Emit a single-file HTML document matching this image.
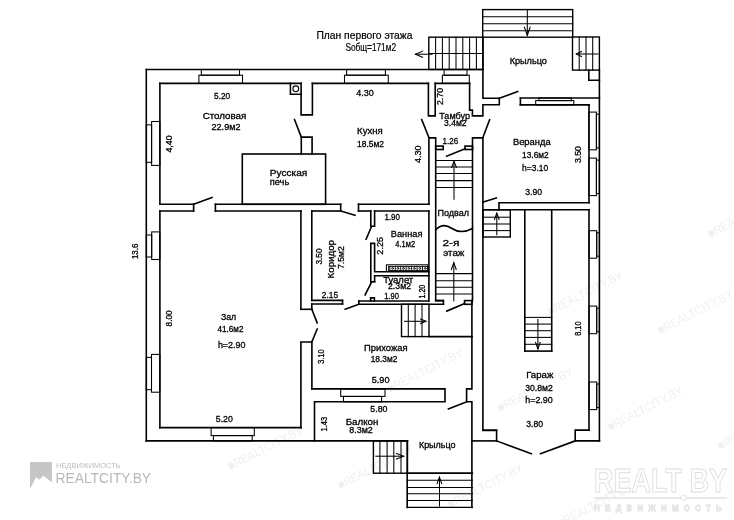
<!DOCTYPE html>
<html><head><meta charset="utf-8">
<style>
html,body{margin:0;padding:0;background:#fff;}
body{width:734px;height:520px;overflow:hidden;}
svg{display:block;}
.lbl text{font-family:"Liberation Sans",sans-serif;fill:#000;stroke:#000;stroke-width:0.3px;text-anchor:middle;}
svg{filter:grayscale(1);}
</style></head><body>
<svg width="734" height="520" viewBox="0 0 734 520">
<g style="font-family:'Liberation Sans',sans-serif" fill="#f0f0f0">
<text x="390.0" y="393.0" font-size="12" textLength="83" lengthAdjust="spacingAndGlyphs" transform="rotate(-27 390.0 393.0)">&#9632;REALTCITY.BY</text>
<text x="500.0" y="412.0" font-size="12" textLength="83" lengthAdjust="spacingAndGlyphs" transform="rotate(-27 500.0 412.0)">&#9632;REALTCITY.BY</text>
<text x="610.0" y="431.0" font-size="12" textLength="83" lengthAdjust="spacingAndGlyphs" transform="rotate(-27 610.0 431.0)">&#9632;REALTCITY.BY</text>
<text x="720.0" y="450.0" font-size="12" textLength="83" lengthAdjust="spacingAndGlyphs" transform="rotate(-27 720.0 450.0)">&#9632;REALTCITY.BY</text>
<text x="230.0" y="470.5" font-size="12" textLength="83" lengthAdjust="spacingAndGlyphs" transform="rotate(-27 230.0 470.5)">&#9632;REALTCITY.BY</text>
<text x="340.0" y="489.5" font-size="12" textLength="83" lengthAdjust="spacingAndGlyphs" transform="rotate(-27 340.0 489.5)">&#9632;REALTCITY.BY</text>
<text x="450.0" y="508.5" font-size="12" textLength="83" lengthAdjust="spacingAndGlyphs" transform="rotate(-27 450.0 508.5)">&#9632;REALTCITY.BY</text>
<text x="560.0" y="527.5" font-size="12" textLength="83" lengthAdjust="spacingAndGlyphs" transform="rotate(-27 560.0 527.5)">&#9632;REALTCITY.BY</text>
<text x="550.0" y="315.5" font-size="12" textLength="83" lengthAdjust="spacingAndGlyphs" transform="rotate(-27 550.0 315.5)">&#9632;REALTCITY.BY</text>
<text x="660.0" y="334.5" font-size="12" textLength="83" lengthAdjust="spacingAndGlyphs" transform="rotate(-27 660.0 334.5)">&#9632;REALTCITY.BY</text>
<text x="710.0" y="238.0" font-size="12" textLength="83" lengthAdjust="spacingAndGlyphs" transform="rotate(-27 710.0 238.0)">&#9632;REALTCITY.BY</text>
</g>
<g style="font-family:'Liberation Sans',sans-serif">
<polygon points="30,462.1 51.9,462.1 51.9,482.3 43.5,475.8 39.2,479.8 36.3,476.9 30,488.8" fill="#c6c6c6"/>
<text x="56" y="468.3" font-size="8.1" textLength="64.6" lengthAdjust="spacingAndGlyphs" fill="#bdbdbd">НЕДВИЖИМОСТЬ</text>
<text x="55.5" y="482.5" font-size="14.8" textLength="95.6" lengthAdjust="spacingAndGlyphs" fill="#b8b8b8">REALTCITY.BY</text>
<text x="594.1" y="491.5" font-size="33" font-weight="bold" textLength="133" lengthAdjust="spacingAndGlyphs" fill="#fff" stroke="#dedede" stroke-width="1">REALT BY</text>
<line x1="594.1" y1="498" x2="727.1" y2="498" stroke="#e2e2e2" stroke-width="1.6"/>
<circle cx="683.5" cy="497.6" r="2.6" fill="#fff" stroke="#e2e2e2" stroke-width="1"/>
<text x="594.1" y="510.8" font-size="9" font-weight="bold" textLength="133" lengthAdjust="spacingAndGlyphs" fill="#fff" stroke="#e0e0e0" stroke-width="0.8" letter-spacing="6">НЕДВИЖИМОСТЬ</text>
</g>
<g fill="none" stroke="#000" stroke-width="1.6" stroke-linecap="square">
<line x1="146.3" y1="69.5" x2="482.9" y2="69.5"/>
<line x1="146.3" y1="69.5" x2="146.3" y2="440.9"/>
<line x1="146.3" y1="440.9" x2="407.5" y2="440.9"/>
<line x1="159.9" y1="83.4" x2="301.1" y2="83.4"/>
<line x1="312.4" y1="83.4" x2="428.4" y2="83.4"/>
<line x1="435.2" y1="83.4" x2="469.6" y2="83.4"/>
<line x1="159.9" y1="83.4" x2="159.9" y2="204.3"/>
<line x1="159.9" y1="211" x2="159.9" y2="427.6"/>
<line x1="159.9" y1="427.6" x2="301.2" y2="427.6"/>
<rect x="201.3" y="69.5" width="38.2" height="5.7" stroke-width="1.05"/>
<rect x="198.9" y="75.2" width="43.6" height="8.2" stroke-width="1.05"/>
<rect x="346.6" y="69.5" width="38.8" height="5.7" stroke-width="1.05"/>
<rect x="344.5" y="75.2" width="43.8" height="8.2" stroke-width="1.05"/>
<rect x="444.1" y="69.5" width="22.9" height="5.7" stroke-width="1.05"/>
<rect x="442.4" y="75.2" width="26.9" height="8.2" stroke-width="1.05"/>
<rect x="146.3" y="124.9" width="5.3" height="37.4" stroke-width="1.05"/>
<rect x="151.6" y="121.5" width="8.3" height="43.9" stroke-width="1.05"/>
<rect x="146.3" y="235.0" width="5.4" height="22.0" stroke-width="1.05"/>
<rect x="151.7" y="231.9" width="8.2" height="27.6" stroke-width="1.05"/>
<rect x="146.3" y="357.4" width="5.2" height="32.3" stroke-width="1.05"/>
<rect x="151.5" y="354.4" width="8.4" height="37.8" stroke-width="1.05"/>
<rect x="211.1" y="427.6" width="43.2" height="8.0" stroke-width="1.05"/>
<rect x="213.4" y="435.6" width="38.8" height="5.3" stroke-width="1.05"/>
<polyline points="301.1,83.4 301.1,114.9 312.4,114.9 312.4,83.4"/>
<polyline points="301.3,154 301.3,137.1 312.1,137.1 312.1,154"/>
<line x1="294.5" y1="119.5" x2="301.3" y2="137.1"/>
<polyline points="290.4,83.4 290.4,94.3 301.1,94.3"/>
<circle cx="295.8" cy="88.8" r="2.9" stroke-width="1.1"/>
<rect x="242.3" y="154" width="83.3" height="50.3"/>
<line x1="159.9" y1="204.3" x2="193.6" y2="204.3"/>
<line x1="159.9" y1="211" x2="193.6" y2="211"/>
<line x1="193.6" y1="204.3" x2="193.6" y2="211"/>
<line x1="193.6" y1="204.3" x2="212" y2="197.6"/>
<line x1="215.4" y1="204.3" x2="340.7" y2="204.3"/>
<line x1="215.4" y1="204.3" x2="215.4" y2="211"/>
<line x1="215.4" y1="211" x2="301.2" y2="211"/>
<line x1="311.8" y1="211" x2="340.7" y2="211"/>
<line x1="340.7" y1="204.3" x2="340.7" y2="211"/>
<line x1="340.7" y1="211" x2="355.0" y2="215.2"/>
<line x1="358.5" y1="204.3" x2="428.9" y2="204.3"/>
<line x1="358.5" y1="204.3" x2="358.5" y2="211"/>
<line x1="358.5" y1="211" x2="370.8" y2="211"/>
<line x1="374.6" y1="211" x2="428.9" y2="211"/>
<polyline points="428.4,83.4 428.4,115.9 435.2,115.9 435.2,83.4"/>
<line x1="421.7" y1="119.6" x2="428.9" y2="137.5"/>
<polyline points="428.9,204.3 428.9,137.9 435.7,137.9 435.7,300.6 443.4,300.6 443.4,304.3"/>
<line x1="428.9" y1="211" x2="428.9" y2="300.6"/>
<line x1="300.9" y1="211" x2="300.9" y2="309.3"/>
<line x1="300.9" y1="309.3" x2="311.8" y2="309.3"/>
<line x1="311.8" y1="211" x2="311.8" y2="300.4"/>
<line x1="311.8" y1="300.4" x2="342.5" y2="300.4"/>
<line x1="342.5" y1="300.4" x2="342.5" y2="304.0"/>
<line x1="311.8" y1="304.0" x2="342.5" y2="304.0"/>
<line x1="311.8" y1="304.0" x2="311.8" y2="309.3"/>
<line x1="358.8" y1="304.3" x2="345.2" y2="309.3"/>
<line x1="311.8" y1="309.3" x2="317.2" y2="322.9"/>
<line x1="311.8" y1="342.0" x2="317.2" y2="329.0"/>
<polyline points="300.9,427.6 300.9,342.0 311.9,342.0 311.9,388.9"/>
<polyline points="370.8,211 370.8,226.2 374.6,226.2 374.6,211"/>
<line x1="366.1" y1="239.3" x2="371.2" y2="227.2"/>
<polyline points="370.8,281.8 370.8,243.4 374.6,243.4 374.6,271.7 428.9,271.7"/>
<polyline points="374.6,281.8 374.6,275.7 428.9,275.7"/>
<line x1="370.8" y1="281.8" x2="374.6" y2="281.8"/>
<line x1="365.1" y1="294.9" x2="371.2" y2="282.8"/>
<polyline points="370.6,301 370.6,297.9 374.4,297.9 374.4,301"/>
<line x1="358.8" y1="301" x2="428.9" y2="301"/>
<line x1="435.7" y1="300.6" x2="443.4" y2="300.6"/>
<line x1="358.8" y1="301" x2="358.8" y2="304.3"/>
<line x1="358.8" y1="304.3" x2="443.4" y2="304.3"/>
<rect x="386.4" y="264.8" width="41.6" height="6.6" stroke-width="1.05"/>
<rect x="388.6" y="266.4" width="39.4" height="4.0" stroke-width="0.9"/>
<line x1="389.8" y1="266.4" x2="389.8" y2="270.4" stroke-width="0.9"/>
<circle cx="392.5" cy="268.4" r="0.9" stroke-width="0.8"/>
<line x1="395.25" y1="266.4" x2="395.25" y2="270.4" stroke-width="0.9"/>
<circle cx="397.9" cy="268.4" r="0.9" stroke-width="0.8"/>
<line x1="400.7" y1="266.4" x2="400.7" y2="270.4" stroke-width="0.9"/>
<circle cx="403.4" cy="268.4" r="0.9" stroke-width="0.8"/>
<line x1="406.15000000000003" y1="266.4" x2="406.15000000000003" y2="270.4" stroke-width="0.9"/>
<circle cx="408.9" cy="268.4" r="0.9" stroke-width="0.8"/>
<line x1="411.6" y1="266.4" x2="411.6" y2="270.4" stroke-width="0.9"/>
<circle cx="414.3" cy="268.4" r="0.9" stroke-width="0.8"/>
<line x1="417.05" y1="266.4" x2="417.05" y2="270.4" stroke-width="0.9"/>
<circle cx="419.8" cy="268.4" r="0.9" stroke-width="0.8"/>
<line x1="422.5" y1="266.4" x2="422.5" y2="270.4" stroke-width="0.9"/>
<circle cx="425.2" cy="268.4" r="0.9" stroke-width="0.8"/>
<line x1="427.95" y1="266.4" x2="427.95" y2="270.4" stroke-width="0.9"/>
<polyline points="469.6,83.4 469.6,110.1 472.4,110.1 472.4,115.9 482.9,115.9 482.9,104.7 499.3,104.7 499.3,98.2 482.9,98.2 482.9,37.2"/>
<line x1="499.3" y1="98.2" x2="517.6" y2="91.6"/>
<polyline points="520.4,98.2 520.4,104.9"/>
<line x1="489.6" y1="119.7" x2="482.9" y2="137.5"/>
<polyline points="472.5,300.6 472.5,137.9 482.9,137.9 482.9,430.5 496.6,430.5 496.6,440.9"/>
<rect x="435.7" y="146.1" width="7.5" height="3.4"/>
<rect x="465.0" y="146.1" width="7.5" height="3.4"/>
<line x1="446.6" y1="156.3" x2="465" y2="148.8"/>
<line x1="435.7" y1="160.4" x2="472.5" y2="160.4" stroke-width="1.05"/>
<line x1="435.7" y1="167.0" x2="472.5" y2="167.0" stroke-width="1.05"/>
<line x1="435.7" y1="173.4" x2="472.5" y2="173.4" stroke-width="1.05"/>
<line x1="435.7" y1="180.6" x2="472.5" y2="180.6" stroke-width="1.05"/>
<line x1="435.7" y1="187.4" x2="472.5" y2="187.4" stroke-width="1.05"/>
<line x1="454.0" y1="162" x2="454.0" y2="199.3" stroke-width="1.05"/>
<polyline points="451.6,167.5 454.0,161.2 456.4,167.5" stroke-width="1.05"/>
<path d="M435.7,230 C441,224 446,224.5 452,228.5 C458,232.5 464,233 472.5,228.5"/>
<line x1="435.7" y1="273.6" x2="472.5" y2="273.6" stroke-width="1.05"/>
<line x1="435.7" y1="280.7" x2="472.5" y2="280.7" stroke-width="1.05"/>
<line x1="435.7" y1="287.2" x2="472.5" y2="287.2" stroke-width="1.05"/>
<line x1="435.7" y1="294.0" x2="472.5" y2="294.0" stroke-width="1.05"/>
<line x1="453.8" y1="263" x2="453.8" y2="300.6" stroke-width="1.05"/>
<polyline points="451.4,269.5 453.8,262.7 456.2,269.5" stroke-width="1.05"/>
<rect x="464.5" y="300.6" width="7.5" height="3.7"/>
<line x1="446.8" y1="311.1" x2="464.5" y2="303.6"/>
<rect x="401.5" y="304.3" width="27.5" height="32.3" stroke-width="1.4"/>
<line x1="408.3" y1="304.3" x2="408.3" y2="336.6" stroke-width="1.05"/>
<line x1="415.1" y1="304.3" x2="415.1" y2="336.6" stroke-width="1.05"/>
<line x1="422.0" y1="304.3" x2="422.0" y2="336.6" stroke-width="1.05"/>
<line x1="429.0" y1="336.6" x2="471.9" y2="336.6"/>
<line x1="404.5" y1="321.3" x2="425.6" y2="321.3" stroke-width="1.05"/>
<polyline points="420.5,319.0 426.0,321.3 420.5,323.6" stroke-width="1.05"/>
<polyline points="471.9,336.6 471.9,388.9 466.6,388.9 466.6,401.7 471.9,401.7 471.9,507.4"/>
<line x1="471.9" y1="300.6" x2="471.9" y2="336.6"/>
<polyline points="311.9,388.9 445.0,388.9 445.0,401.8 314.5,401.8 314.5,440.9"/>
<rect x="340.7" y="388.9" width="44.3" height="7.5" stroke-width="1.05"/>
<rect x="343.5" y="396.4" width="38.1" height="5.4" stroke-width="1.05"/>
<line x1="466.8" y1="401.8" x2="448.4" y2="409.0"/>
<rect x="373.4" y="440.9" width="34.1" height="32.3" stroke-width="1.4"/>
<line x1="379.9" y1="440.9" x2="379.9" y2="473.2" stroke-width="1.05"/>
<line x1="387.1" y1="440.9" x2="387.1" y2="473.2" stroke-width="1.05"/>
<line x1="393.8" y1="440.9" x2="393.8" y2="473.2" stroke-width="1.05"/>
<line x1="401.0" y1="440.9" x2="401.0" y2="473.2" stroke-width="1.05"/>
<line x1="375.8" y1="456.2" x2="403.4" y2="456.2" stroke-width="1.05"/>
<polyline points="396.5,453.4 403.6,456.2 396.5,459.0" stroke-width="1.05"/>
<line x1="407.2" y1="440.9" x2="407.2" y2="507.4"/>
<line x1="471.9" y1="440.9" x2="496.6" y2="440.9"/>
<line x1="407.2" y1="480.3" x2="472.3" y2="480.3" stroke-width="1.05"/>
<line x1="407.2" y1="487.4" x2="472.3" y2="487.4" stroke-width="1.05"/>
<line x1="407.2" y1="493.8" x2="472.3" y2="493.8" stroke-width="1.05"/>
<line x1="407.2" y1="500.5" x2="472.3" y2="500.5" stroke-width="1.05"/>
<line x1="407.2" y1="507.4" x2="472.3" y2="507.4" stroke-width="1.4"/>
<line x1="407.2" y1="473.1" x2="472.3" y2="473.1"/>
<line x1="439.5" y1="477.5" x2="439.5" y2="506" stroke-width="1.05"/>
<polyline points="437.1,483.7 439.4,477 441.7,483.7" stroke-width="1.05"/>
<rect x="428.8" y="37.2" width="54.1" height="32.3" stroke-width="1.4"/>
<line x1="435.6" y1="37.2" x2="435.6" y2="69.5" stroke-width="1.05"/>
<line x1="442.4" y1="37.2" x2="442.4" y2="69.5" stroke-width="1.05"/>
<line x1="449.2" y1="37.2" x2="449.2" y2="69.5" stroke-width="1.05"/>
<line x1="456.0" y1="37.2" x2="456.0" y2="69.5" stroke-width="1.05"/>
<line x1="462.8" y1="37.2" x2="462.8" y2="69.5" stroke-width="1.05"/>
<line x1="469.6" y1="37.2" x2="469.6" y2="69.5" stroke-width="1.05"/>
<line x1="476.4" y1="37.2" x2="476.4" y2="69.5" stroke-width="1.05"/>
<line x1="428.8" y1="53.5" x2="482.9" y2="53.5" stroke-width="1.05"/>
<line x1="415.5" y1="54.2" x2="432" y2="54.2" stroke-width="1.05"/>
<polyline points="422.6,51.1 415.5,54.2 422.6,57.3" stroke-width="1.05"/>
<rect x="482.7" y="9.6" width="90.0" height="27.6" stroke-width="1.4"/>
<line x1="482.7" y1="16.8" x2="572.7" y2="16.8" stroke-width="1.05"/>
<line x1="482.7" y1="23.7" x2="572.7" y2="23.7" stroke-width="1.05"/>
<line x1="482.7" y1="30.7" x2="572.7" y2="30.7" stroke-width="1.05"/>
<line x1="527.3" y1="9.6" x2="527.3" y2="35.0" stroke-width="1.05"/>
<polyline points="524.4,27.2 527.3,35.3 530.1,27.2" stroke-width="1.05"/>
<rect x="572.5" y="37.0" width="26.9" height="33.1" stroke-width="1.4"/>
<line x1="579.2" y1="37.0" x2="579.2" y2="70.1" stroke-width="1.05"/>
<line x1="586.0" y1="37.0" x2="586.0" y2="70.1" stroke-width="1.05"/>
<line x1="592.7" y1="37.0" x2="592.7" y2="70.1" stroke-width="1.05"/>
<line x1="576.5" y1="54.0" x2="598" y2="54.0" stroke-width="1.05"/>
<polyline points="581.5,51.5 576.3,54.0 581.5,56.5" stroke-width="1.05"/>
<polyline points="588.8,70.1 588.8,80.2 599.4,80.2"/>
<line x1="599.4" y1="70.1" x2="599.4" y2="440.9"/>
<line x1="520.4" y1="98.0" x2="599.4" y2="98.0"/>
<line x1="520.4" y1="104.9" x2="589.0" y2="104.9"/>
<line x1="589.0" y1="104.9" x2="589.0" y2="202.7"/>
<rect x="535.7" y="100.6" width="38.1" height="4.3" stroke-width="1.05"/>
<rect x="538.9" y="98.0" width="32.4" height="2.6" stroke-width="1.05"/>
<rect x="588.8" y="112.1" width="7.6" height="37.7" stroke-width="1.05"/>
<rect x="596.4" y="114.2" width="3.0" height="33.7" stroke-width="1.05"/>
<rect x="588.8" y="158.1" width="7.6" height="37.5" stroke-width="1.05"/>
<rect x="596.4" y="160.1" width="3.0" height="33.5" stroke-width="1.05"/>
<line x1="483.3" y1="202.0" x2="496.3" y2="197.9"/>
<polyline points="499.0,209.8 499.0,202.7 589.0,202.7"/>
<line x1="482.9" y1="209.8" x2="589.0" y2="209.8"/>
<line x1="589.0" y1="209.8" x2="589.0" y2="430.1"/>
<rect x="482.9" y="209.8" width="27.4" height="27.2" stroke-width="1.4"/>
<line x1="482.9" y1="217.2" x2="510.3" y2="217.2" stroke-width="1.05"/>
<line x1="482.9" y1="224.0" x2="510.3" y2="224.0" stroke-width="1.05"/>
<line x1="482.9" y1="230.6" x2="510.3" y2="230.6" stroke-width="1.05"/>
<line x1="496.8" y1="213.5" x2="496.8" y2="234.7" stroke-width="1.05"/>
<polyline points="494.5,219.5 496.8,213.0 499.1,219.5" stroke-width="1.05"/>
<line x1="524.8" y1="209.8" x2="524.8" y2="351.1"/>
<line x1="551.7" y1="209.8" x2="551.7" y2="351.1"/>
<line x1="524.8" y1="351.1" x2="551.7" y2="351.1"/>
<line x1="524.8" y1="317.4" x2="551.7" y2="317.4" stroke-width="1.05"/>
<line x1="524.8" y1="324.1" x2="551.7" y2="324.1" stroke-width="1.05"/>
<line x1="524.8" y1="330.7" x2="551.7" y2="330.7" stroke-width="1.05"/>
<line x1="524.8" y1="337.4" x2="551.7" y2="337.4" stroke-width="1.05"/>
<line x1="524.8" y1="344.3" x2="551.7" y2="344.3" stroke-width="1.05"/>
<line x1="537.9" y1="319.4" x2="537.9" y2="348.6" stroke-width="1.05"/>
<polyline points="535.6,342.5 537.9,349.0 540.2,342.5" stroke-width="1.05"/>
<rect x="589.1" y="230.7" width="7.6" height="27.5" stroke-width="1.05"/>
<rect x="596.7" y="232.7" width="2.7" height="23.5" stroke-width="1.05"/>
<rect x="589.1" y="306.1" width="7.6" height="27.6" stroke-width="1.05"/>
<rect x="596.7" y="308.1" width="2.7" height="23.6" stroke-width="1.05"/>
<rect x="589.1" y="382.0" width="7.6" height="27.6" stroke-width="1.05"/>
<rect x="596.7" y="384.0" width="2.7" height="23.6" stroke-width="1.05"/>
<polyline points="482.9,430.1 496.6,430.1"/>
<polyline points="589.0,430.1 575.2,430.1 575.2,440.9 599.4,440.9"/>
<line x1="496.6" y1="440.9" x2="531.3" y2="453.7"/>
<line x1="575.2" y1="440.9" x2="540.5" y2="453.7"/>
</g>
<g class="lbl">
<text x="364.4" y="38.67" font-size="10.2" textLength="96" lengthAdjust="spacingAndGlyphs" style="stroke-width:0.2px;font-weight:normal">План первого этажа</text>
<text x="370.7" y="50.87" font-size="10.2" textLength="50.6" lengthAdjust="spacingAndGlyphs" style="stroke-width:0.2px;font-weight:normal">Sобщ=171м2</text>
<text x="528.3" y="63.63" font-size="8.7" textLength="37.2" lengthAdjust="spacingAndGlyphs">Крыльцо</text>
<text x="222.1" y="98.83" font-size="8.7" textLength="16.2" lengthAdjust="spacingAndGlyphs">5.20</text>
<text x="224.5" y="119.43" font-size="8.7" textLength="43.6" lengthAdjust="spacingAndGlyphs">Столовая</text>
<text x="226" y="129.73" font-size="8.7" textLength="29" lengthAdjust="spacingAndGlyphs">22.9м2</text>
<text x="168.6" y="147.13" font-size="8.7" textLength="17" lengthAdjust="spacingAndGlyphs" transform="rotate(-90 168.6 144)">4,40</text>
<text x="288.5" y="175.93" font-size="8.7" textLength="37.4" lengthAdjust="spacingAndGlyphs">Русская</text>
<text x="279.5" y="185.03" font-size="8.7" textLength="19.4" lengthAdjust="spacingAndGlyphs">печь</text>
<text x="365" y="95.83" font-size="8.7" textLength="17.5" lengthAdjust="spacingAndGlyphs">4.30</text>
<text x="369.9" y="134.13" font-size="8.7" textLength="25.6" lengthAdjust="spacingAndGlyphs">Кухня</text>
<text x="370.5" y="146.63" font-size="8.7" textLength="27" lengthAdjust="spacingAndGlyphs">18.5м2</text>
<text x="418.2" y="157.33" font-size="8.7" textLength="17.5" lengthAdjust="spacingAndGlyphs" transform="rotate(-90 418.2 154.2)">4.30</text>
<text x="392.2" y="219.63" font-size="8.7" textLength="15.6" lengthAdjust="spacingAndGlyphs">1.90</text>
<text x="406.6" y="236.93" font-size="8.7" textLength="31.6" lengthAdjust="spacingAndGlyphs">Ванная</text>
<text x="405.2" y="247.13" font-size="8.7" textLength="19.8" lengthAdjust="spacingAndGlyphs">4.1м2</text>
<text x="380" y="248.93" font-size="8.7" textLength="17.8" lengthAdjust="spacingAndGlyphs" transform="rotate(-90 380 245.8)">2.25</text>
<text x="330.9" y="262.33" font-size="8.7" textLength="38.4" lengthAdjust="spacingAndGlyphs" transform="rotate(-90 330.9 259.2)">Коридор</text>
<text x="341.1" y="260.63" font-size="8.7" textLength="22.9" lengthAdjust="spacingAndGlyphs" transform="rotate(-90 341.1 257.5)">7.5м2</text>
<text x="318.6" y="259.63" font-size="8.7" textLength="16" lengthAdjust="spacingAndGlyphs" transform="rotate(-90 318.6 256.5)">3.50</text>
<text x="398.2" y="282.63" font-size="8.7" textLength="30" lengthAdjust="spacingAndGlyphs">Туалет</text>
<text x="399.5" y="289.13" font-size="8.7" textLength="23" lengthAdjust="spacingAndGlyphs">2.3м2</text>
<text x="421.8" y="294.73" font-size="8.7" textLength="13.8" lengthAdjust="spacingAndGlyphs" transform="rotate(-90 421.8 291.6)">1.20</text>
<text x="391.5" y="299.13" font-size="8.7" textLength="14.7" lengthAdjust="spacingAndGlyphs">1.90</text>
<text x="329.9" y="298.23" font-size="8.7" textLength="16.3" lengthAdjust="spacingAndGlyphs">2.15</text>
<text x="135.3" y="254.43" font-size="8.7" textLength="15.5" lengthAdjust="spacingAndGlyphs" transform="rotate(-90 135.3 251.3)">13.6</text>
<text x="168.8" y="321.53" font-size="8.7" textLength="16" lengthAdjust="spacingAndGlyphs" transform="rotate(-90 168.8 318.4)">8.00</text>
<text x="228.6" y="319.73" font-size="8.7" textLength="15.3" lengthAdjust="spacingAndGlyphs">Зал</text>
<text x="230.5" y="332.33" font-size="8.7" textLength="26" lengthAdjust="spacingAndGlyphs">41.6м2</text>
<text x="231.7" y="348.33" font-size="8.7" textLength="27.6" lengthAdjust="spacingAndGlyphs">h=2.90</text>
<text x="224.3" y="421.93" font-size="8.7" textLength="17" lengthAdjust="spacingAndGlyphs">5.20</text>
<text x="454.6" y="119.03" font-size="8.7" textLength="30.7" lengthAdjust="spacingAndGlyphs">Тамбур</text>
<text x="455.3" y="126.03" font-size="8.7" textLength="22.5" lengthAdjust="spacingAndGlyphs">3.4м2</text>
<text x="440" y="99.63" font-size="8.7" textLength="17" lengthAdjust="spacingAndGlyphs" transform="rotate(-90 440 96.5)">2.70</text>
<text x="450.3" y="144.13" font-size="8.7" textLength="15.6" lengthAdjust="spacingAndGlyphs">1.26</text>
<text x="453.2" y="215.63" font-size="8.7" textLength="31.6" lengthAdjust="spacingAndGlyphs">Подвал</text>
<text x="451" y="246.03" font-size="8.7" textLength="17" lengthAdjust="spacingAndGlyphs">2-я</text>
<text x="453.8" y="256.03" font-size="8.7" textLength="21.1" lengthAdjust="spacingAndGlyphs">этаж</text>
<text x="531.8" y="144.83" font-size="8.7" textLength="37.8" lengthAdjust="spacingAndGlyphs">Веранда</text>
<text x="535.4" y="157.73" font-size="8.7" textLength="26.6" lengthAdjust="spacingAndGlyphs">13.6м2</text>
<text x="535.1" y="170.63" font-size="8.7" textLength="26" lengthAdjust="spacingAndGlyphs">h=3.10</text>
<text x="533.6" y="194.63" font-size="8.7" textLength="16.8" lengthAdjust="spacingAndGlyphs">3.90</text>
<text x="578.3" y="157.73" font-size="8.7" textLength="17" lengthAdjust="spacingAndGlyphs" transform="rotate(-90 578.3 154.6)">3.50</text>
<text x="385.8" y="350.53" font-size="8.7" textLength="43.5" lengthAdjust="spacingAndGlyphs">Прихожая</text>
<text x="384" y="361.73" font-size="8.7" textLength="26.6" lengthAdjust="spacingAndGlyphs">18.3м2</text>
<text x="380.6" y="382.83" font-size="8.7" textLength="17.8" lengthAdjust="spacingAndGlyphs">5.90</text>
<text x="320.7" y="359.63" font-size="8.7" textLength="14.3" lengthAdjust="spacingAndGlyphs" transform="rotate(-90 320.7 356.5)">3.10</text>
<text x="378.9" y="411.83" font-size="8.7" textLength="17.2" lengthAdjust="spacingAndGlyphs">5.80</text>
<text x="362" y="424.53" font-size="8.7" textLength="32.7" lengthAdjust="spacingAndGlyphs">Балкон</text>
<text x="361" y="432.63" font-size="8.7" textLength="23.5" lengthAdjust="spacingAndGlyphs">8.3м2</text>
<text x="323.7" y="427.33" font-size="8.7" textLength="14.7" lengthAdjust="spacingAndGlyphs" transform="rotate(-90 323.7 424.2)">1.43</text>
<text x="437.2" y="447.63" font-size="8.7" textLength="36.5" lengthAdjust="spacingAndGlyphs">Крыльцо</text>
<text x="578.3" y="331.73" font-size="8.7" textLength="14.3" lengthAdjust="spacingAndGlyphs" transform="rotate(-90 578.3 328.6)">8.10</text>
<text x="539.8" y="377.73" font-size="8.7" textLength="27.2" lengthAdjust="spacingAndGlyphs">Гараж</text>
<text x="539" y="390.63" font-size="8.7" textLength="27.6" lengthAdjust="spacingAndGlyphs">30.8м2</text>
<text x="539" y="402.83" font-size="8.7" textLength="27.6" lengthAdjust="spacingAndGlyphs">h=2.90</text>
<text x="534.6" y="427.03" font-size="8.7" textLength="16.8" lengthAdjust="spacingAndGlyphs">3.80</text>
</g>
</svg>
</body></html>
